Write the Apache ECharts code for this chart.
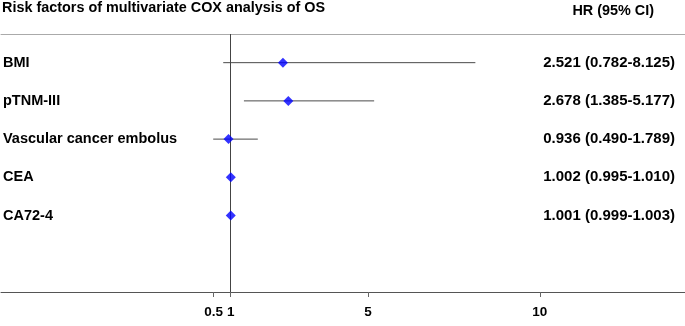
<!DOCTYPE html>
<html>
<head>
<meta charset="utf-8">
<script src="https://cdn.jsdelivr.net/npm/echarts@6/dist/echarts.min.js"></script>
<style>html,body{margin:0;padding:0;background:#fff;}#c{width:685px;height:326px;}</style>
</head>
<body>
<div id="c"></div>
<script>
var names = ['BMI', 'pTNM-III', 'Vascular cancer embolus', 'CEA', 'CA72-4'];
var hr = [2.521, 2.678, 0.936, 1.002, 1.001];
var lo = [0.782, 1.385, 0.490, 0.995, 0.999];
var hi = [8.125, 5.177, 1.789, 1.010, 1.003];
var hrText = ['2.521 (0.782-8.125)', '2.678 (1.385-5.177)', '0.936 (0.490-1.789)', '1.002 (0.995-1.010)', '1.001 (0.999-1.003)'];
var xTicks = [0.5, 1, 5, 10];
var rows = [1, 2, 3, 4, 5];

var FONT = 'Liberation Sans, Arial, sans-serif';
var chart = echarts.init(document.getElementById('c'), null, {renderer: 'canvas'});

var ciData = names.map(function (n, i) { return [lo[i], hi[i], rows[i]]; });
var ptData = names.map(function (n, i) { return [hr[i], rows[i]]; });

chart.setOption({
  animation: false,
  title: [
    {text: 'Risk factors of multivariate COX analysis of OS', left: 0, top: 1, padding: [0, 2],
     textStyle: {fontFamily: FONT, fontSize: 14.4, fontWeight: 'bold', color: '#000'}},
    {text: 'HR (95% CI)', right: 31, top: 4, padding: 0,
     textStyle: {fontFamily: FONT, fontSize: 14.4, fontWeight: 'bold', color: '#000'}}
  ],
  grid: {left: 0, right: 0, top: 34, bottom: 34},
  xAxis: [
    {type: 'value', position: 'bottom', min: -5.69, max: 14.23,
     axisLine: {show: true, lineStyle: {color: '#555', width: 1}},
     axisTick: {show: true, customValues: xTicks, length: 5, lineStyle: {color: '#666'}},
     axisLabel: {show: true, customValues: xTicks, margin: 13,
       fontFamily: FONT, fontSize: 13.5, fontWeight: 'bold', color: '#000'},
     splitLine: {show: false}},
    {type: 'value', position: 'top', min: -5.69, max: 14.23,
     axisLine: {show: true, lineStyle: {color: '#aaa', width: 1}},
     axisTick: {show: false}, axisLabel: {show: false}, splitLine: {show: false}}
  ],
  yAxis: [
    {type: 'value', inverse: true, min: 0.25, max: 7, position: 'left',
     axisLine: {show: false}, axisTick: {show: false}, splitLine: {show: false},
     axisLabel: {show: true, inside: true, margin: 2, align: 'left', customValues: rows,
       formatter: function (v) { return names[Math.round(v) - 1] || ''; },
       fontFamily: FONT, fontSize: 14.5, fontWeight: 'bold', color: '#000'}},
    {type: 'value', inverse: true, min: 0.25, max: 7, position: 'right',
     axisLine: {show: false}, axisTick: {show: false}, splitLine: {show: false},
     axisLabel: {show: true, inside: true, margin: 10, align: 'right', customValues: rows,
       formatter: function (v) { return hrText[Math.round(v) - 1] || ''; },
       fontFamily: FONT, fontSize: 15, fontWeight: 'bold', color: '#000'}}
  ],
  series: [
    {
      type: 'custom',
      xAxisIndex: 0, yAxisIndex: 0,
      silent: true,
      data: ciData,
      encode: {x: [0, 1], y: 2},
      renderItem: function (params, api) {
        var a = api.coord([api.value(0), api.value(2)]);
        var b = api.coord([api.value(1), api.value(2)]);
        return {type: 'line', shape: {x1: a[0], y1: a[1], x2: b[0], y2: b[1]},
                style: {stroke: '#4a4a4a', lineWidth: 1}};
      },
      z: 2
    },
    {
      type: 'scatter',
      xAxisIndex: 0, yAxisIndex: 0,
      symbol: 'diamond', symbolSize: [10, 10],
      itemStyle: {color: '#0000ff'},
      data: ptData,
      z: 5,
      markLine: {
        silent: true, symbol: 'none', label: {show: false},
        lineStyle: {color: '#444', width: 1, type: 'solid'},
        data: [{xAxis: 1}]
      }
    }
  ]
});
</script>
</body>
</html>
